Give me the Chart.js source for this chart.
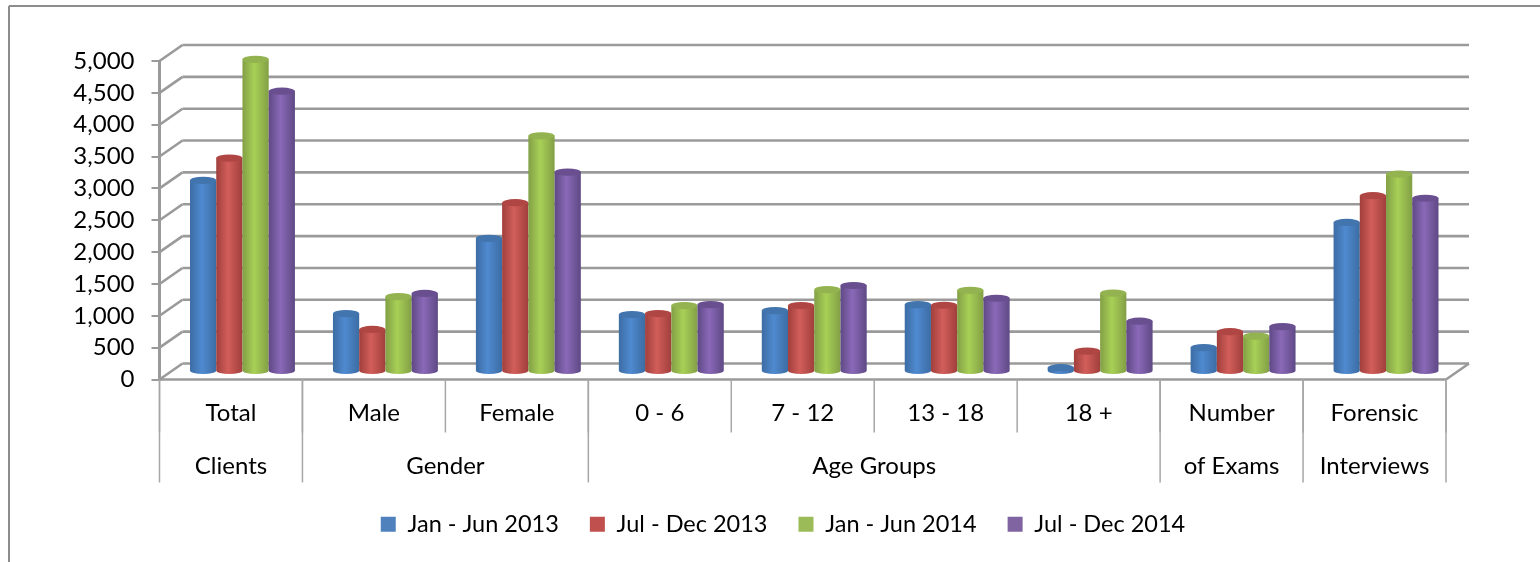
<!DOCTYPE html>
<html>
<head>
<meta charset="utf-8">
<title>Clients, exams and interviews</title>
<script src="https://cdn.jsdelivr.net/npm/chart.js@4"></script>
<style>
    html, body { margin: 0; padding: 0; background: #fff; overflow: hidden; }
    canvas { display: block; }
</style>
</head>
<body>
<canvas id="chart" width="1540" height="562"></canvas>
<script>
const categories = ['Total', 'Male', 'Female', '0 - 6', '7 - 12', '13 - 18', '18 +', 'Number', 'Forensic'];
const groupLabels = ['Clients', 'Gender', 'Age Groups', 'of Exams', 'Interviews'];
const groupSizes = [1, 2, 4, 1, 1];

const seriesNames = ['Jan - Jun 2013', 'Jul - Dec 2013', 'Jan - Jun 2014', 'Jul - Dec 2014'];
const janJun2013 = [3000, 910, 2090, 895, 955, 1050, 60, 375, 2340];
const julDec2013 = [3350, 660, 2650, 910, 1035, 1040, 320, 625, 2760];
const janJun2014 = [4900, 1175, 3700, 1035, 1285, 1275, 1230, 555, 3100];
const julDec2014 = [4400, 1225, 3130, 1050, 1350, 1150, 790, 705, 2720];

const seriesColors = ['#4f81bd', '#c0504d', '#9bbb59', '#8064a2'];
// edge, middle, cap shade for each cylinder
const shades = [
    ['#3c6ca3', '#4f8ad0', '#4274ae'],
    ['#a03f3c', '#d25e5a', '#b04643'],
    ['#829f46', '#a8d056', '#93b350'],
    ['#5f4985', '#8a69b8', '#694f8f']
];

const gridColor = '#9a9a9a';
const depthX = 23;
const depthY = 16;

function line(ctx, x1, y1, x2, y2) {
    ctx.beginPath();
    ctx.moveTo(x1, y1);
    ctx.lineTo(x2, y2);
    ctx.stroke();
}

const wallsPlugin = {
    id: 'walls',
    afterLayout(chart) {
        // legend sits under the whole chart box, not under the plot
        chart.legend.left += 60;
        chart.legend.right += 60;
        chart.legend.top -= 2;
        chart.legend.bottom -= 2;
    },
    beforeDatasetsDraw(chart) {
        const { ctx, chartArea, scales } = chart;
        ctx.save();

        // outer frame, runs off the page on the right and at the bottom
        ctx.strokeStyle = '#8c8c8c';
        ctx.lineWidth = 2;
        line(ctx, 9, 6, 1540, 6);
        line(ctx, 9, 6, 9, 562);

        // back wall lines and their slanted sides
        ctx.strokeStyle = gridColor;
        ctx.lineWidth = 2.6;
        scales.y.ticks.forEach(t => {
            const y = scales.y.getPixelForValue(t.value);
            line(ctx, chartArea.left, y, chartArea.left + depthX, y - depthY);
            line(ctx, chartArea.left + depthX, y - depthY, chartArea.right + depthX, y - depthY);
        });

        // floor
        const y0 = scales.y.getPixelForValue(0);
        line(ctx, chartArea.left, y0, chartArea.right, y0);
        line(ctx, chartArea.right, y0, chartArea.right + depthX, y0 - depthY);

        // dividers under the floor
        const w = scales.x.getPixelForValue(1) - scales.x.getPixelForValue(0);
        const edge = i => scales.x.getPixelForValue(0) - w / 2 + i * w;
        ctx.strokeStyle = '#a6a6a6';
        ctx.lineWidth = 1.5;
        for (let i = 0; i <= categories.length; i++) {
            line(ctx, edge(i), y0, edge(i), y0 + 53);
        }

        // second label row
        ctx.fillStyle = '#000';
        ctx.font = '24px Lato';
        ctx.textAlign = 'center';
        ctx.textBaseline = 'middle';
        let start = 0;
        groupSizes.forEach((size, i) => {
            line(ctx, edge(start), y0, edge(start), y0 + 103);
            ctx.fillText(groupLabels[i], edge(start) + size * w / 2, y0 + 87);
            start += size;
        });
        line(ctx, edge(start), y0, edge(start), y0 + 103);

        ctx.restore();

        drawCylinders(chart);
        return false;
    }
};

function drawCylinders(chart) {
    const { ctx } = chart;
    ctx.save();
    // bars stand in the middle of the floor depth
    ctx.translate(depthX / 2, -depthY / 2);
    chart.data.datasets.forEach((ds, d) => {
        chart.getDatasetMeta(d).data.forEach(bar => {
            const left = bar.x - bar.width / 2;
            const right = bar.x + bar.width / 2;
            const rx = bar.width / 2;
            const ry = 3.6;
            const g = ctx.createLinearGradient(left, 0, right, 0);
            g.addColorStop(0, shades[d][0]);
            g.addColorStop(0.45, shades[d][1]);
            g.addColorStop(1, shades[d][0]);

            ctx.fillStyle = g;
            ctx.beginPath();
            ctx.moveTo(left, bar.y);
            ctx.lineTo(left, bar.base);
            ctx.ellipse(bar.x, bar.base, rx, ry, 0, Math.PI, 0, true);
            ctx.lineTo(right, bar.y);
            ctx.closePath();
            ctx.fill();

            ctx.fillStyle = shades[d][2];
            ctx.beginPath();
            ctx.ellipse(bar.x, bar.y, rx, ry, 0, 0, Math.PI * 2);
            ctx.fill();
        });
    });
    ctx.restore();
}

const seriesValues = [janJun2013, julDec2013, janJun2014, julDec2014];

new Chart(document.getElementById('chart'), {
    type: 'bar',
    data: {
        labels: categories,
        datasets: seriesNames.map((name, i) => ({
            label: name,
            data: seriesValues[i],
            backgroundColor: seriesColors[i],
            borderWidth: 0,
            barPercentage: 1,
            categoryPercentage: 0.734
        }))
    },
    options: {
        responsive: false,
        animation: false,
        layout: { padding: { left: 0, right: 94, top: 61, bottom: 14 } },
        plugins: {
            tooltip: { enabled: false },
            legend: {
                position: 'bottom',
                labels: {
                    boxWidth: 15,
                    boxHeight: 15,
                    padding: 31,
                    color: '#000',
                    font: { family: 'Lato', size: 23.5 }
                }
            }
        },
        scales: {
            x: {
                offset: true,
                grid: { display: false },
                border: { display: false },
                afterFit(scale) { scale.height = 104; },
                ticks: {
                    autoSkip: false,
                    maxRotation: 0,
                    padding: 11,
                    color: '#000',
                    font: { family: 'Lato', size: 24 }
                }
            },
            y: {
                min: 0,
                max: 5000,
                afterFit(scale) { scale.width = 159.5; },
                grid: { drawOnChartArea: false, color: gridColor, lineWidth: 2, tickLength: 8 },
                border: { color: gridColor, width: 3 },
                ticks: {
                    stepSize: 500,
                    padding: 17,
                    color: '#000',
                    font: { family: 'Lato', size: 24 },
                    callback: v => v.toLocaleString('en-US')
                }
            }
        }
    },
    plugins: [wallsPlugin]
});
</script>
</body>
</html>
